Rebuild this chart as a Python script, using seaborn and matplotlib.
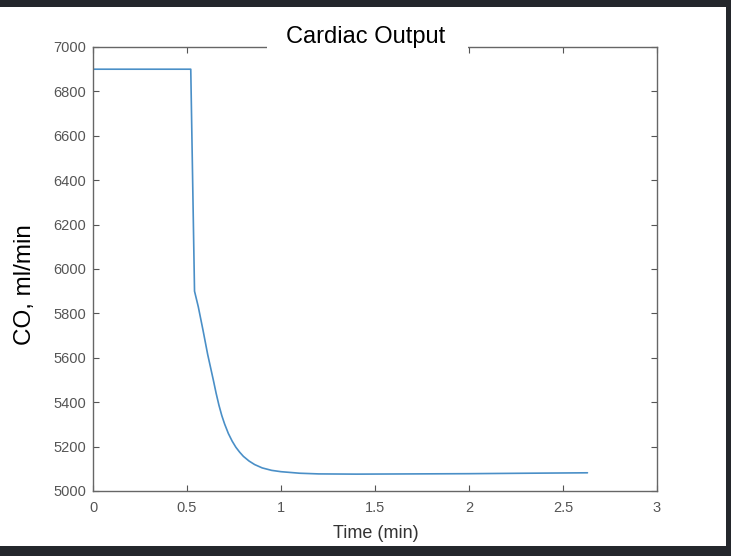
import numpy as np
import pandas as pd
import matplotlib
matplotlib.use("Agg")
import matplotlib.pyplot as plt
import seaborn as sns
from matplotlib.patches import Rectangle

# cardiac output trace
time_min = [0.0, 0.52, 0.54, 0.56, 0.585, 0.61, 0.64, 0.655, 0.67, 0.685, 0.70,
            0.72, 0.74, 0.76, 0.78, 0.80, 0.83, 0.86, 0.90, 0.95, 1.0, 1.1,
            1.2, 1.4, 1.7, 2.0, 2.3, 2.63]
co_ml_min = [6900, 6900, 5900, 5830, 5725, 5615, 5500, 5440, 5386, 5340, 5302,
             5259, 5225, 5197, 5175, 5156, 5135, 5119, 5104, 5093, 5087, 5080,
             5077, 5076, 5077, 5078, 5080, 5082]

df = pd.DataFrame({"time": time_min, "co": co_ml_min})

sns.set_style("white")
plt.rcParams["font.family"] = ["Liberation Sans", "DejaVu Sans"]

W, H = 731, 556
fig = plt.figure(figsize=(W / 100, H / 100), dpi=100)
fig.patch.set_facecolor("#24272c")
# white figure panel over the dark backdrop
fig.patches.append(Rectangle((0, 10 / H), 726 / W, (H - 17) / H,
                             transform=fig.transFigure, facecolor="white",
                             edgecolor="none", zorder=-5))

ax = fig.add_axes([93 / W, (H - 491) / H, (657 - 93) / W, (491 - 47) / H])
ax.set_facecolor("white")
sns.lineplot(data=df, x="time", y="co", ax=ax, color="#4a8fc7", linewidth=1.2)

ax.set_xlim(0, 3)
ax.set_ylim(5000, 7000)
ax.set_xticks([0, 0.5, 1, 1.5, 2, 2.5, 3])
ax.set_xticklabels(["0", "0.5", "1", "1.5", "2", "2.5", "3"])
ax.set_yticks(np.arange(5000, 7001, 200))
ax.tick_params(direction="in", length=4, width=0.8, colors="#555555",
               labelsize=10.5, top=True, right=True, bottom=True, left=True)
ax.tick_params(axis="x", pad=7)
ax.tick_params(axis="y", pad=5)
for s in ax.spines.values():
    s.set_color("#666666")
    s.set_linewidth(1.0)
ax.set_xlabel("")
ax.set_ylabel("")

fig.text(376 / W, (H - 533) / H, "Time (min)", ha="center", va="center",
         fontsize=13, color="#333333")
fig.text(25 / W, (H - 285) / H, "CO, ml/min", ha="center", va="center",
         rotation=90, fontsize=17.5, color="black")

# title sits in a white box over the top spine
fig.patches.append(Rectangle((267 / W, (H - 55) / H), 201 / W, 48 / H,
                             transform=fig.transFigure, facecolor="white",
                             edgecolor="none", zorder=5))
fig.text(366 / W, (H - 37) / H, "Cardiac Output", ha="center", va="center",
         fontsize=17, color="black", zorder=6)

fig.savefig("out.png", dpi=100, facecolor=fig.get_facecolor())
